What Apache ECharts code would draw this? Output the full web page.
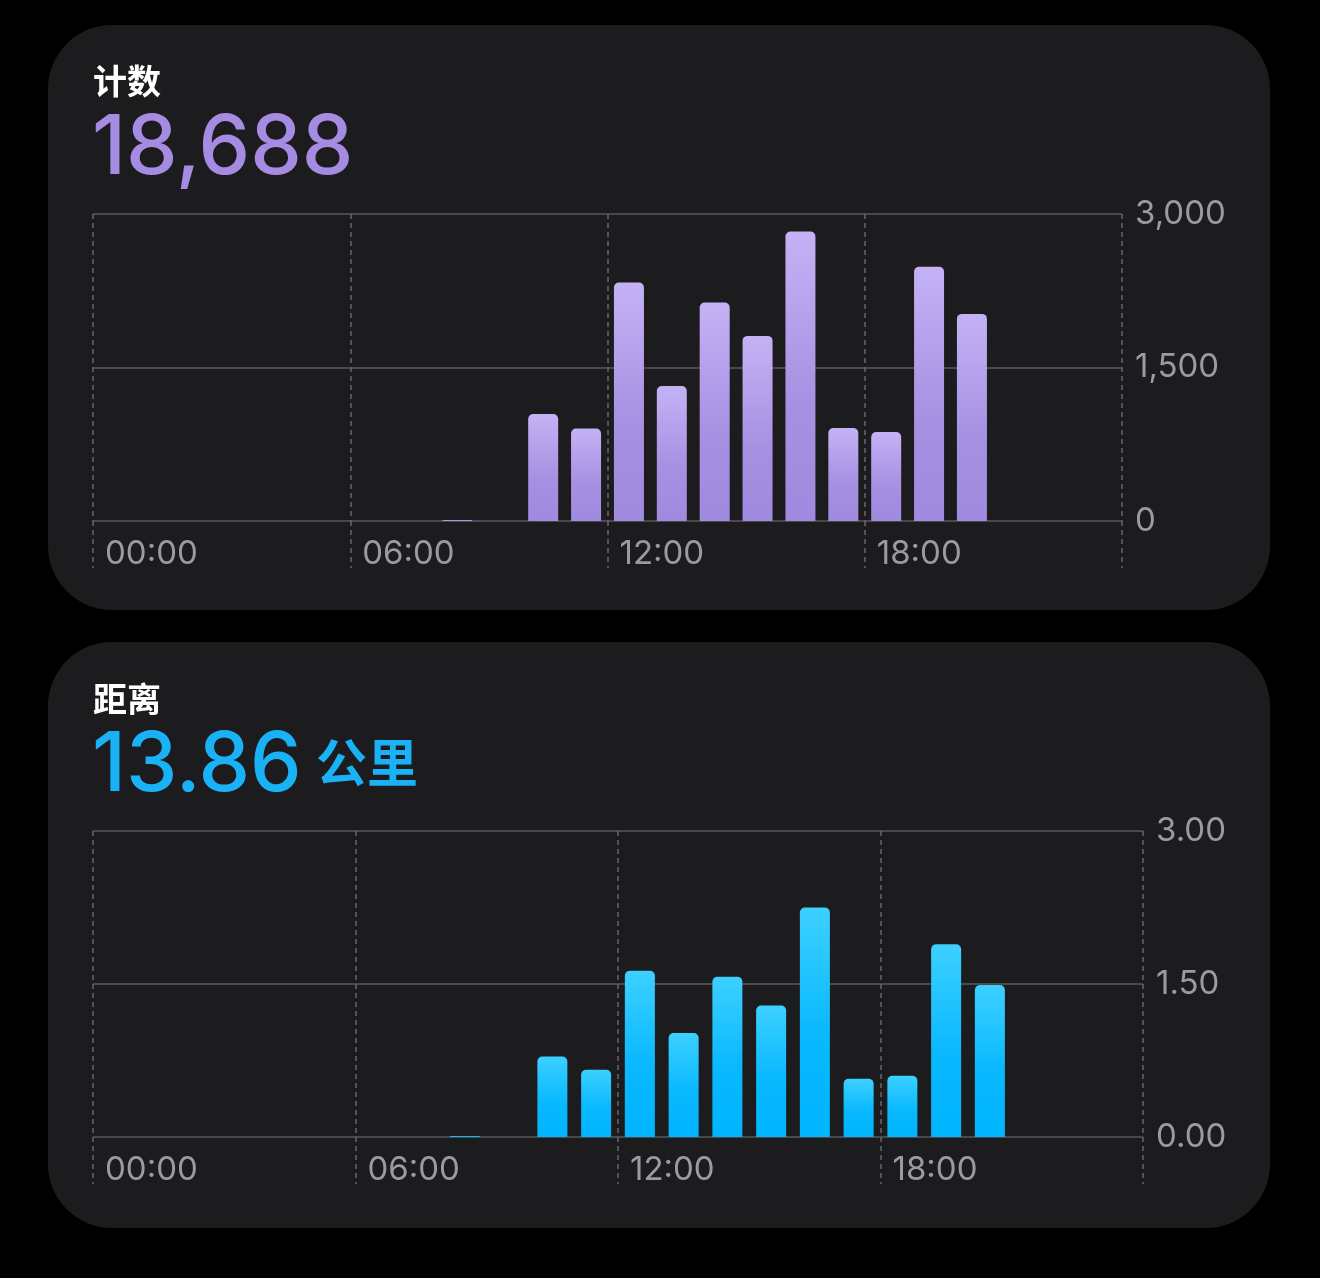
<!DOCTYPE html>
<html>
<head>
<meta charset="utf-8">
<script src="https://cdn.jsdelivr.net/npm/echarts@6/dist/echarts.min.js"></script>
<style>
html,body{margin:0;padding:0;background:#000;}
#c{width:1320px;height:1278px;}
</style>
</head>
<body>
<div id="c"></div>
<script>
// ---- data ----
const hourSlots = [0,1,2,3,4,5,6,7,8,9,10,11,12,13,14,15,16,17,18,19,20,21,22,23];
const steps = [0,0,0,0,0,0,0,0,10,0,1045,904,2331,1319,2135,1809,2828,908,869,2485,2024,0,0,0];
const distanceKm = [0,0,0,0,0,0,0,0,0.01,0,0.79,0.66,1.63,1.02,1.57,1.29,2.25,0.57,0.60,1.89,1.49,0,0,0];
const xTickLabels = ['00:00','06:00','12:00','18:00',''];
const stepTickLabels = ['0','1,500','3,000'];
const distTickLabels = ['0.00','1.50','3.00'];
const stepTitle = '计数';
const stepTotal = '18,688';
const distTitle = '距离';
const distTotal = '13.86';
const distUnit = '公里';

const FONT = 'Inter, Roboto, "Noto Sans", sans-serif';
const CJK = '"Noto Sans CJK SC", "Noto Sans", sans-serif';
const GRID_COLOR = '#58585d';
const DASH_COLOR = '#67676c';
const LABEL_COLOR = '#9a9aa0';

const chart = echarts.init(document.getElementById('c'), null, {renderer:'canvas'});

function xAxisCfg(gridIndex){
  return {
    type:'value', gridIndex, min:0, max:24, interval:6,
    axisLine:{show:false},
    axisTick:{show:true, inside:false, length:47, lineStyle:{color:DASH_COLOR, width:1.5, type:[5,4]}},
    splitLine:{show:true, showMinLine:true, showMaxLine:true, lineStyle:{color:DASH_COLOR, width:1.5, type:[5,4]}},
    axisLabel:{
      show:true, align:'left', margin:17, color:LABEL_COLOR, fontFamily:FONT, fontSize:33, lineHeight:33,
      padding:[0,0,0,12], showMaxLabel:true,
      formatter:(v)=> xTickLabels[v/6]
    }
  };
}
function yAxisCfg(gridIndex, max, labels){
  return {
    type:'value', gridIndex, position:'right', min:0, max:max, interval:max/2,
    axisLine:{show:false}, axisTick:{show:false},
    splitLine:{show:true, lineStyle:{color:GRID_COLOR, width:1.5, type:'solid'}},
    axisLabel:{margin:13, color:LABEL_COLOR, fontFamily:FONT, fontSize:33, padding:[8,0,0,0],
      formatter:(v)=> labels[Math.round(v/(max/2))]}
  };
}
function barData(vals){
  return hourSlots.map((h,i)=> vals[i] > 0 ? [h+0.5, vals[i]] : null).filter(Boolean);
}

const option = {
  backgroundColor:'#000',
  animation:false,
  graphic:[
    {type:'rect', z:-10, shape:{x:48,y:25,width:1222,height:585,r:64}, style:{fill:'#1c1c1e'}},
    {type:'rect', z:-10, shape:{x:48,y:642,width:1222,height:586,r:64}, style:{fill:'#1c1c1e'}},
    {type:'text', left:93, top:64, style:{text:stepTitle, fill:'#ffffff', font:'bold 34px '+CJK}},
    {type:'text', left:92, top:108, style:{text:stepTotal, fill:'#a58be2', font:'500 82px '+FONT}},
    {type:'text', left:93, top:682, style:{text:distTitle, fill:'#ffffff', font:'bold 34px '+CJK}},
    {type:'text', left:92, top:725, style:{text:distTotal, fill:'#1ab2f6', font:'500 82px '+FONT}},
    {type:'text', left:316, top:737, style:{text:distUnit, fill:'#1ab2f6', font:'bold 51px '+CJK}}
  ],
  grid:[
    {left:93, right:198, top:214, height:307},
    {left:93, right:177, top:831, height:306}
  ],
  xAxis:[xAxisCfg(0), xAxisCfg(1)],
  yAxis:[yAxisCfg(0,3000,stepTickLabels), yAxisCfg(1,3,distTickLabels)],
  series:[
    {type:'bar', xAxisIndex:0, yAxisIndex:0, barWidth:30, z:5, data:barData(steps),
     itemStyle:{borderRadius:[5,5,0,0], color:new echarts.graphic.LinearGradient(0,0,0,1,[{offset:0,color:'#c4b2f5'},{offset:0.6,color:'#a690e2'},{offset:1,color:'#a08adf'}], false)}},
    {type:'bar', xAxisIndex:1, yAxisIndex:1, barWidth:30, z:5, data:barData(distanceKm),
     itemStyle:{borderRadius:[5,5,0,0], color:new echarts.graphic.LinearGradient(0,0,0,1,[{offset:0,color:'#3dd0ff'},{offset:0.55,color:'#0ab9ff'},{offset:1,color:'#00b4ff'}], false)}}
  ]
};
chart.setOption(option);
</script>
</body>
</html>
